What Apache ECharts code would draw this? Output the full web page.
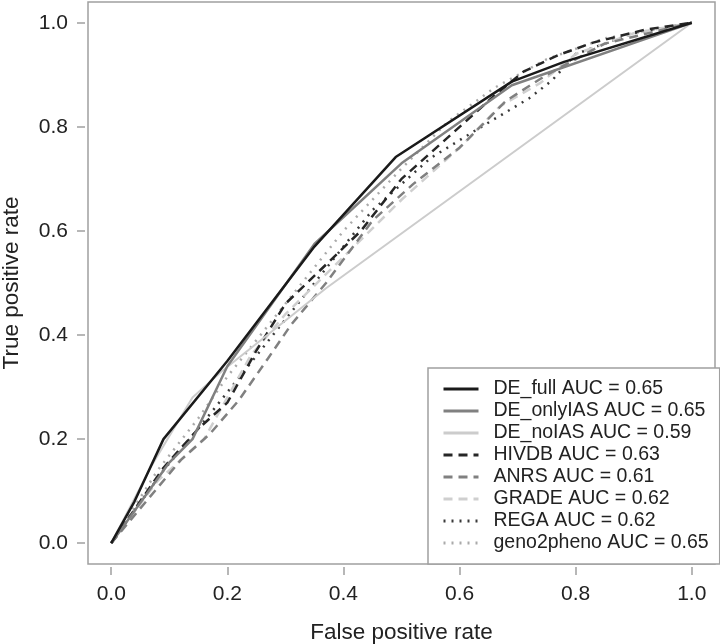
<!DOCTYPE html>
<html><head><meta charset="utf-8">
<script src="https://cdn.jsdelivr.net/npm/echarts@6/dist/echarts.min.js"></script>
<style>html,body{margin:0;padding:0;background:#fff}#c{width:720px;height:644px}</style>
</head><body><div id="c"></div>
<script>
const tickValues = [0, 0.2, 0.4, 0.6, 0.8, 1.0];
const seriesNames = ['DE_full AUC = 0.65','DE_onlyIAS AUC = 0.65','DE_noIAS AUC = 0.59','HIVDB AUC = 0.63','ANRS AUC = 0.61','GRADE AUC = 0.62','REGA AUC = 0.62','geno2pheno AUC = 0.65'];
const deFull = [[0,0],[0.04,0.08],[0.09,0.2],[0.2,0.35],[0.35,0.57],[0.49,0.742],[0.69,0.887],[0.78,0.925],[1,1]];
const deOnlyIAS = [[0,0],[0.1,0.155],[0.14,0.2],[0.2,0.34],[0.35,0.575],[0.5,0.73],[0.69,0.88],[1,1]];
const deNoIAS = [[0,0],[0.07,0.15],[0.14,0.28],[0.19,0.33],[0.37,0.49],[1,1]];
const hivdb = [[0,0],[0.09,0.145],[0.15,0.22],[0.2,0.27],[0.25,0.37],[0.3,0.46],[0.43,0.6],[0.5,0.7],[0.57,0.77],[0.66,0.86],[0.71,0.906],[0.77,0.938],[0.83,0.962],[0.92,0.987],[1,1]];
const anrs = [[0,0],[0.06,0.08],[0.12,0.16],[0.17,0.21],[0.22,0.275],[0.27,0.355],[0.31,0.42],[0.37,0.5],[0.45,0.62],[0.52,0.69],[0.6,0.76],[0.68,0.85],[0.75,0.9],[0.85,0.96],[1,1]];
const grade = [[0,0],[0.08,0.12],[0.16,0.2],[0.24,0.36],[0.3,0.44],[0.4,0.55],[0.5,0.66],[0.6,0.76],[0.67,0.84],[0.74,0.885],[0.8,0.94],[0.9,0.98],[1,1]];
const rega = [[0,0],[0.09,0.14],[0.15,0.22],[0.25,0.36],[0.35,0.5],[0.45,0.64],[0.55,0.74],[0.63,0.795],[0.72,0.855],[0.76,0.89],[0.8,0.94],[0.9,0.98],[1,1]];
const geno2pheno = [[0,0],[0.08,0.14],[0.15,0.24],[0.2,0.32],[0.3,0.46],[0.4,0.6],[0.5,0.72],[0.58,0.81],[0.66,0.875],[0.75,0.93],[0.85,0.97],[1,1]];

const allData = [deFull, deOnlyIAS, deNoIAS, hivdb, anrs, grade, rega, geno2pheno];
const styles = [
  {color:'#1a1a1a', type:'solid', width:2.5},
  {color:'#808080', type:'solid', width:2.5},
  {color:'#cccccc', type:'solid', width:2},
  {color:'#262626', type:[9,6], width:2.5},
  {color:'#808080', type:[9,6], width:2.5},
  {color:'#cfcfcf', type:[9,6], width:2.5},
  {color:'#3a3a3a', type:[2,6], width:2.5},
  {color:'#aaaaaa', type:[2,6], width:2.5}
];
const FONT = '"Liberation Sans", Arial, Helvetica, sans-serif';
const chart = echarts.init(document.getElementById('c'), null, {renderer:'canvas'});
chart.setOption({
  animation:false,
  backgroundColor:'#fff',
  grid:{left:88, right:5, top:2, bottom:80, show:true, containLabel:false, outerBoundsMode:'none',
    borderColor:'#a0a0a0', borderWidth:1.5, backgroundColor:'transparent'},
  xAxis:{type:'value', min:-0.04, max:1.04, offset:3,
    axisLine:{show:false, onZero:false}, splitLine:{show:false},
    axisTick:{show:true, length:8, customValues:tickValues, lineStyle:{color:'#a0a0a0', width:1.5}},
    axisLabel:{customValues:tickValues, formatter:v=>v.toFixed(1), fontSize:21, color:'#222', fontFamily:FONT, margin:17},
    name:'False positive rate', nameLocation:'middle', nameGap:54,
    nameTextStyle:{fontSize:22.5, color:'#222', fontFamily:FONT}},
  yAxis:{type:'value', min:-0.04, max:1.04, offset:3,
    axisLine:{show:false, onZero:false}, splitLine:{show:false},
    axisTick:{show:true, length:8, customValues:tickValues, lineStyle:{color:'#a0a0a0', width:1.5}},
    axisLabel:{customValues:tickValues, formatter:v=>v.toFixed(1), fontSize:21, color:'#222', fontFamily:FONT, margin:17},
    name:'True positive rate', nameLocation:'middle', nameGap:62,
    nameTextStyle:{fontSize:22.5, color:'#222', fontFamily:FONT}},
  legend:{orient:'vertical', left:428, top:368, itemWidth:35, itemHeight:12, itemGap:2,
    padding:[11,11,11,14], borderColor:'#a0a0a0', borderWidth:1.5, backgroundColor:'#fff',
    data:seriesNames, itemStyle:{opacity:0}, lineStyle:{width:3},
    textStyle:{fontSize:19.5, lineHeight:20, color:'#222', fontFamily:FONT, padding:[0,0,0,10]}},
  series: allData.map((d,i)=>({
    name:seriesNames[i], type:'line', data:d, symbol:'none', showSymbol:false,
    lineStyle:{color:styles[i].color, type:styles[i].type, width:styles[i].width},
    itemStyle:{color:styles[i].color}, z:10-i
  }))
});
</script></body></html>
